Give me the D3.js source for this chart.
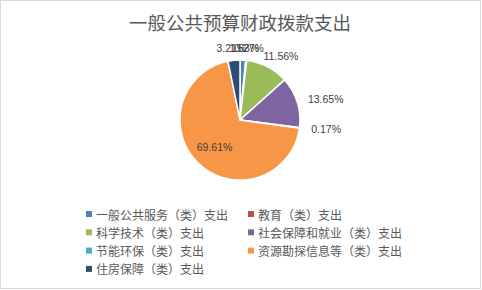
<!DOCTYPE html>
<html>
<head>
<meta charset="utf-8">
<script src="https://cdn.jsdelivr.net/npm/d3@7"></script>
<style>
body { margin: 0; background: #fff; }
</style>
</head>
<body>
<div id="chart"></div>
<script>
var categories = ['一般公共服务（类）支出', '教育（类）支出', '科学技术（类）支出', '社会保障和就业（类）支出',
	'节能环保（类）支出', '资源勘探信息等（类）支出', '住房保障（类）支出'];
var values = [1.53, 0.27, 11.56, 13.65, 0.17, 69.61, 3.21];
var colors = ['#4F81BD', '#C0504D', '#9BBB59', '#8064A2', '#4BACC6', '#F79646', '#2C4D75'];
var insideLabels = ['资源勘探信息等（类）支出'];

var svgWidth = 482;
var svgHeight = 290;
var cx = 240, cy = 120;
var radius = 60;
var cjk = '"Noto Sans CJK SC", sans-serif';

var data = categories.map(function(c, i) { return {label: c, count: values[i]}; });
var total = d3.sum(values);

var color = d3.scaleOrdinal().domain(categories).range(colors);
var pie = d3.pie().sort(null).value(function(d) { return d.count; });
var arc = d3.arc().outerRadius(radius).innerRadius(0);
var labelArc = d3.arc().outerRadius(radius + 12).innerRadius(radius + 12);
var innerArc = d3.arc().outerRadius(radius * 0.62).innerRadius(radius * 0.62);

var svg = d3.select('#chart').append('svg')
	.attr('width', svgWidth)
	.attr('height', svgHeight);

svg.append('rect')
	.attr('x', 0.5).attr('y', 0.5)
	.attr('width', 480).attr('height', 288)
	.style('fill', '#fff')
	.style('stroke', '#D9D9D9');

svg.append('text')
	.attr('x', cx).attr('y', 22)
	.attr('dominant-baseline', 'central')
	.style('text-anchor', 'middle')
	.style('font-family', cjk)
	.style('font-size', '18.5px')
	.style('fill', '#595959')
	.text('一般公共预算财政拨款支出');

var g = svg.append('g').attr('transform', 'translate(' + cx + ',' + cy + ')');

g.selectAll('.arc').data(pie(data)).enter().append('path')
	.attr('class', 'arc')
	.attr('d', arc)
	.style('fill', function(d) { return color(d.data.label); })
	.style('stroke', '#fff')
	.style('stroke-width', 1.5);

g.selectAll('.lbl').data(pie(data)).enter().append('text')
	.attr('class', 'lbl')
	.attr('dominant-baseline', 'central')
	.style('font-family', '"Liberation Sans", Arial, sans-serif')
	.style('font-size', '10.5px')
	.style('fill', '#404040')
	.text(function(d) { return d.data.count.toFixed(2) + '%'; })
	.each(function(d) {
		var el = d3.select(this);
		var w = this.getComputedTextLength();
		if (insideLabels.indexOf(d.data.label) >= 0) {
			var p = innerArc.centroid(d);
			el.attr('x', p[0] - w / 2).attr('y', p[1]);
		} else {
			var p2 = labelArc.centroid(d);
			var mid = (d.startAngle + d.endAngle) / 2;
			var frac = (1 - Math.sin(mid)) / 2;
			el.attr('x', p2[0] - frac * w).attr('y', p2[1]);
		}
	});

var legendX = [86, 248];
var legendY = 214;
var legendStep = 18.3;

var legend = svg.selectAll('.legend').data(categories).enter().append('g')
	.attr('class', 'legend')
	.attr('transform', function(d, i) {
		return 'translate(' + legendX[i % 2] + ',' + (legendY + Math.floor(i / 2) * legendStep) + ')';
	});

legend.append('rect')
	.attr('x', 0).attr('y', -3)
	.attr('width', 6).attr('height', 6)
	.style('fill', color);

legend.append('text')
	.attr('x', 10).attr('y', 0)
	.attr('dominant-baseline', 'central')
	.style('font-family', cjk)
	.style('font-size', '12px')
	.style('fill', '#595959')
	.text(function(d) { return d; });
</script>
</body>
</html>
